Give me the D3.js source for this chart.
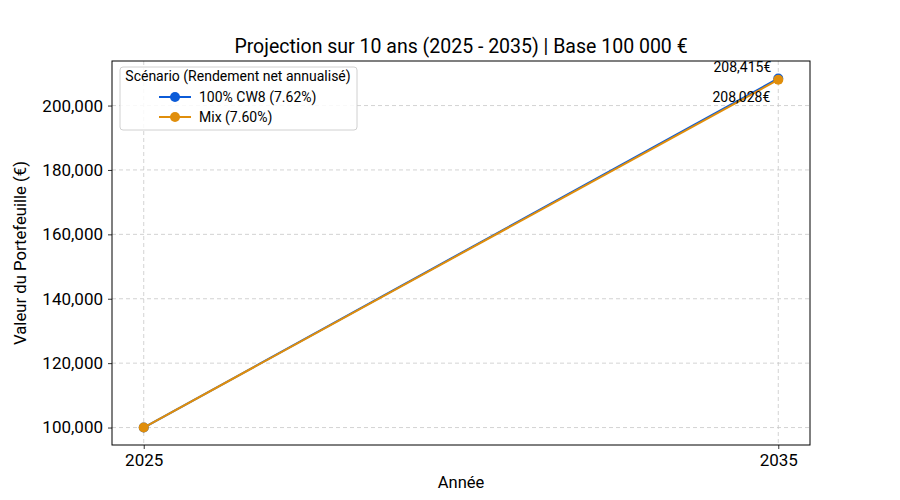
<!DOCTYPE html>
<html><head><meta charset="utf-8">
<script src="https://cdn.jsdelivr.net/npm/d3@7"></script>
<style>
body{margin:0;background:#fff;}
text{font-family:Roboto,"Noto Sans",sans-serif;fill:#000;}
</style></head>
<body><svg id="c" width="900" height="500"></svg>
<script>
const years = [2025, 2035];
const seriesNames = ["100% CW8 (7.62%)", "Mix (7.60%)"];
const cw8Values = [100000, 208415];
const mixValues = [100000, 208028];
const annotLabels = ["208,415€", "208,028€"];
const yTicks = [100000, 120000, 140000, 160000, 180000, 200000];
const xTicks = [2025, 2035];
const colors = ["#0b5bd8", "#e08e0b"];

const svg = d3.select("#c");
const L = 112, R = 810, T = 61, B = 445;
const allVals = cw8Values.concat(mixValues);
const ymin = d3.min(allVals), ymax = d3.max(allVals), pad = (ymax - ymin) * 0.05;
const x = d3.scaleLinear().domain([2024.5, 2035.5]).range([L, R]);
const y = d3.scaleLinear().domain([ymin - pad, ymax + pad]).range([B, T]);

// grid
const g = svg.append("g");
g.selectAll(".gy").data(yTicks).join("line")
  .attr("x1", L).attr("x2", R).attr("y1", d => y(d)).attr("y2", d => y(d))
  .attr("stroke", "#c8c8c8").attr("stroke-width", 0.8).attr("stroke-dasharray", "4,3");
g.selectAll(".gx").data(xTicks).join("line")
  .attr("y1", T).attr("y2", B).attr("x1", d => x(d)).attr("x2", d => x(d))
  .attr("stroke", "#c8c8c8").attr("stroke-width", 0.8).attr("stroke-dasharray", "4,3");

// axes
const yAxis = svg.append("g").attr("transform", `translate(${L},0)`)
  .call(d3.axisLeft(y).tickValues(yTicks).tickFormat(d3.format(",")).tickSize(4).tickPadding(5));
const xAxis = svg.append("g").attr("transform", `translate(0,${B})`)
  .call(d3.axisBottom(x).tickValues(xTicks).tickFormat(d3.format("d")).tickSize(4).tickPadding(5));
[yAxis, xAxis].forEach(a => {
  a.select(".domain").remove();
  a.selectAll("text").style("font-size", "17px").attr("fill", "#000");
  a.selectAll("line").attr("stroke", "#000").attr("stroke-width", 0.8);
});
svg.append("rect").attr("x", L).attr("y", T).attr("width", R - L).attr("height", B - T)
  .attr("fill", "none").attr("stroke", "#000").attr("stroke-width", 1);

// lines
const series = [cw8Values, mixValues];
const line = d3.line().x((d, i) => x(years[i])).y(d => y(d));
series.forEach((vals, k) => {
  svg.append("path").datum(vals).attr("d", line).attr("fill", "none")
    .attr("stroke", colors[k]).attr("stroke-width", 2);
  svg.selectAll(null).data(vals).join("circle")
    .attr("cx", (d, i) => x(years[i])).attr("cy", d => y(d)).attr("r", 5)
    .attr("fill", colors[k]);
});

// annotations
const lastIdx = years.length - 1;
svg.append("text").attr("x", x(years[lastIdx]) - 7).attr("y", y(cw8Values[lastIdx]) - 6)
  .attr("text-anchor", "end").style("font-size", "14px").text(annotLabels[0]);
svg.append("text").attr("x", x(years[lastIdx]) - 8).attr("y", y(mixValues[lastIdx]) + 22)
  .attr("text-anchor", "end").style("font-size", "14px").text(annotLabels[1]);

// title & labels
svg.append("text").attr("x", (L + R) / 2).attr("y", 53).attr("text-anchor", "middle")
  .style("font-size", "19.5px").text("Projection sur 10 ans (2025 - 2035) | Base 100 000 €");
svg.append("text").attr("x", (L + R) / 2).attr("y", 488).attr("text-anchor", "middle")
  .style("font-size", "16.5px").text("Année");
svg.append("text").attr("transform", `translate(26,${(T + B) / 2}) rotate(-90)`)
  .attr("text-anchor", "middle").style("font-size", "16.7px").text("Valeur du Portefeuille (€)");

// legend
const lg = svg.append("g");
lg.append("rect").attr("x", 120).attr("y", 67).attr("width", 237).attr("height", 63)
  .attr("rx", 3).attr("fill", "#fff").attr("fill-opacity", 0.85).attr("stroke", "#d0d0d0");
lg.append("text").attr("x", 238).attr("y", 81).attr("text-anchor", "middle")
  .style("font-size", "14px").text("Scénario (Rendement net annualisé)");
seriesNames.forEach((n, k) => {
  const yy = 97 + k * 20;
  lg.append("line").attr("x1", 159).attr("x2", 191).attr("y1", yy).attr("y2", yy)
    .attr("stroke", colors[k]).attr("stroke-width", 2);
  lg.append("circle").attr("cx", 175).attr("cy", yy).attr("r", 5).attr("fill", colors[k]);
  lg.append("text").attr("x", 199).attr("y", yy + 5).style("font-size", "14px").text(n);
});
</script></body></html>
